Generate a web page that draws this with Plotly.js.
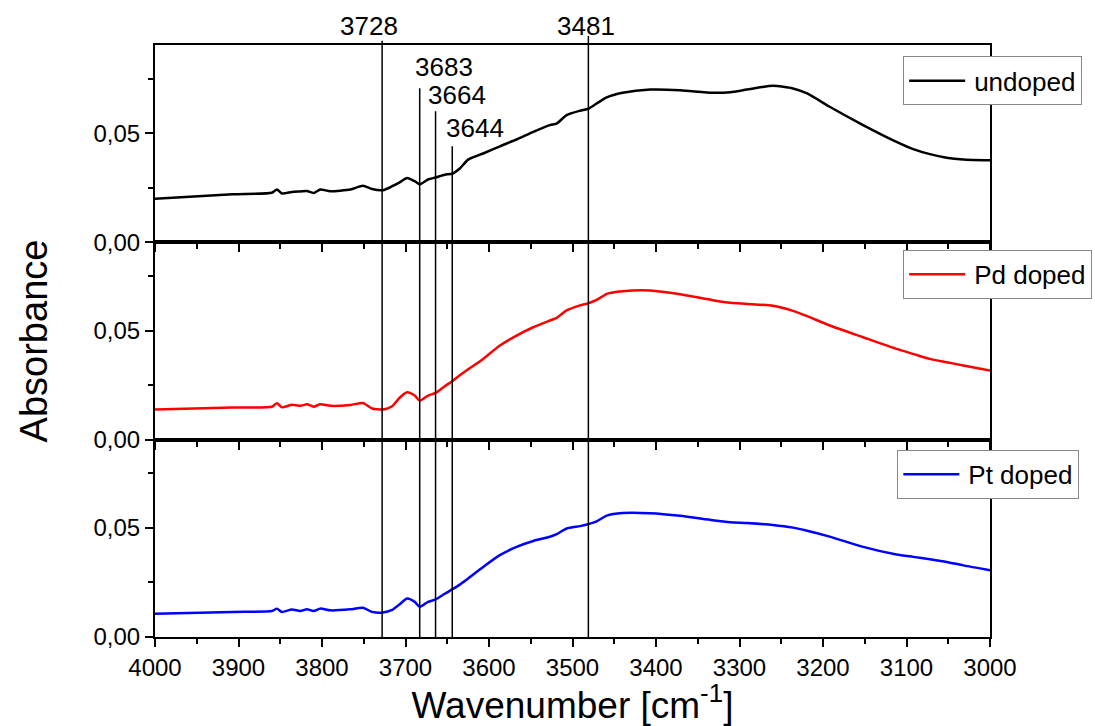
<!DOCTYPE html>
<html>
<head>
<meta charset="utf-8">
<script src="https://cdn.plot.ly/plotly-3.0.1.min.js"></script>
<style>
  html, body { margin: 0; padding: 0; background: #fff; }
  #chart { width: 1095px; height: 726px; }
</style>
</head>
<body>
<div id="chart"></div>
<script>
// ---- data ----
const wavenumber = [4000, 3907, 3860, 3854, 3848, 3836, 3826, 3818, 3810, 3802, 3790, 3766, 3751, 3740, 3727, 3716, 3707, 3698, 3689, 3683, 3673, 3664, 3653, 3644, 3635, 3625, 3607, 3587, 3567, 3547, 3527, 3519, 3507, 3491, 3481, 3471, 3459, 3440, 3407, 3371, 3332, 3311, 3291, 3260, 3236, 3219, 3192, 3152, 3112, 3092, 3072, 3052, 3032, 3000];

const undoped = [0.0200, 0.0220, 0.0227, 0.0242, 0.0224, 0.0231, 0.0233, 0.0235, 0.0226, 0.0242, 0.0234, 0.0242, 0.0259, 0.0244, 0.0239, 0.0257, 0.0275, 0.0295, 0.0280, 0.0266, 0.0288, 0.0297, 0.0310, 0.0314, 0.0338, 0.0379, 0.0407, 0.0440, 0.0471, 0.0506, 0.0537, 0.0544, 0.0583, 0.0603, 0.0612, 0.0636, 0.0664, 0.0685, 0.0700, 0.0697, 0.0685, 0.0688, 0.0700, 0.0717, 0.0705, 0.0682, 0.0621, 0.0537, 0.0460, 0.0427, 0.0404, 0.0388, 0.0380, 0.0376];

const pdDoped = [0.0138, 0.0147, 0.0151, 0.0167, 0.0148, 0.0160, 0.0155, 0.0162, 0.0151, 0.0162, 0.0155, 0.0159, 0.0168, 0.0143, 0.0138, 0.0153, 0.0192, 0.0217, 0.0202, 0.0179, 0.0202, 0.0214, 0.0245, 0.0268, 0.0295, 0.0322, 0.0370, 0.0431, 0.0477, 0.0515, 0.0546, 0.0558, 0.0592, 0.0615, 0.0625, 0.0640, 0.0668, 0.0680, 0.0683, 0.0666, 0.0639, 0.0627, 0.0622, 0.0613, 0.0590, 0.0566, 0.0523, 0.0469, 0.0416, 0.0393, 0.0370, 0.0355, 0.0340, 0.0317];

const ptDoped = [0.0107, 0.0115, 0.0119, 0.0130, 0.0115, 0.0126, 0.0119, 0.0127, 0.0119, 0.0130, 0.0122, 0.0127, 0.0134, 0.0115, 0.0112, 0.0124, 0.0150, 0.0176, 0.0161, 0.0138, 0.0161, 0.0172, 0.0198, 0.0218, 0.0240, 0.0268, 0.0321, 0.0375, 0.0413, 0.0440, 0.0459, 0.0471, 0.0497, 0.0508, 0.0517, 0.0530, 0.0556, 0.0568, 0.0567, 0.0555, 0.0535, 0.0526, 0.0522, 0.0513, 0.0501, 0.0487, 0.0460, 0.0413, 0.0378, 0.0367, 0.0356, 0.0344, 0.0328, 0.0306];

const seriesNames = ['undoped', 'Pd doped', 'Pt doped'];
const peaks = [3728, 3683, 3664, 3644, 3481];
const peakLabels = ['3728', '3683', '3664', '3644', '3481'];

// ---- styling / placement (not data) ----
const FONT = 'Arial, "Liberation Sans", Helvetica, sans-serif';
const colors = ['#000000', '#ff0000', '#0000ff'];
const peakLineTop = [1.007, 0.927, 0.888, 0.829, 1.015];   // paper y of each marker line top
const peakLabelY = [1.032, 0.963, 0.916, 0.860, 1.032];     // paper y of label centre
const peakLabelAnchor = ['center', 'left', 'left', 'left', 'center'];
const peakLabelShift = [-13, -7, -10, -8, -2];

const yAxes = ['y', 'y2', 'y3'];
const xAxes = ['x3', 'x2', 'x'];
const values = [undoped, pdDoped, ptDoped];
const legendIds = ['legend', 'legend2', 'legend3'];

const traces = values.map((v, i) => ({
  x: wavenumber,
  y: v,
  type: 'scatter',
  mode: 'lines',
  name: seriesNames[i],
  xaxis: xAxes[i],
  yaxis: yAxes[i],
  legend: legendIds[i],
  line: { color: colors[i], width: 2.5, shape: 'spline', smoothing: 0.6 }
}));

const yRange = [0, 0.0904];
function yax(domain) {
  return {
    domain: domain,
    range: yRange,
    showgrid: false,
    zeroline: false,
    showline: true,
    linecolor: '#000',
    linewidth: 2,
    mirror: true,
    ticks: 'outside',
    ticklen: 8,
    tickwidth: 2,
    tickcolor: '#000',
    dtick: 0.05,
    tick0: 0,
    tickformat: '.2f',
    tickfont: { family: FONT, size: 24, color: '#000' },
    minor: { dtick: 0.025, ticks: 'outside', ticklen: 5, tickwidth: 2, tickcolor: '#000', showgrid: false },
    fixedrange: true,
    automargin: false
  };
}
function xax(anchor, labels) {
  return {
    anchor: anchor,
    range: [4000, 3000],
    showgrid: false,
    zeroline: false,
    showline: true,
    linecolor: '#000',
    linewidth: 2,
    mirror: true,
    ticks: 'outside',
    ticklen: 8,
    tickwidth: 2,
    tickcolor: '#000',
    dtick: 100,
    tick0: 3000,
    showticklabels: labels,
    tickfont: { family: FONT, size: 24, color: '#000' },
    minor: { dtick: 50, ticks: 'outside', ticklen: 5, tickwidth: 2, tickcolor: '#000', showgrid: false },
    fixedrange: true,
    automargin: false
  };
}

const layout = {
  width: 1095,
  height: 726,
  margin: { l: 155, r: 105, t: 45, b: 89, autoexpand: false },
  paper_bgcolor: '#fff',
  plot_bgcolor: '#fff',
  separators: ',.',
  font: { family: FONT, color: '#000' },
  xaxis: Object.assign(xax('y3', true), {
    title: { text: 'Wavenumber [cm<sup>-1</sup>]', font: { family: FONT, size: 37, color: '#000' }, standoff: 6 }
  }),
  xaxis2: Object.assign(xax('y2', false), { matches: 'x' }),
  xaxis3: Object.assign(xax('y', false), { matches: 'x' }),
  yaxis: yax([2 / 3, 1]),
  yaxis2: Object.assign(yax([1 / 3, 2 / 3]), {
    title: { text: 'Absorbance', font: { family: FONT, size: 38, color: '#000' }, standoff: 34 }
  }),
  yaxis3: yax([0, 1 / 3]),
  shapes: peaks.map((p, i) => ({
    type: 'line', xref: 'x', yref: 'paper',
    x0: p, x1: p, y0: 0, y1: peakLineTop[i],
    line: { color: '#000', width: 1.5 }
  })),
  annotations: peaks.map((p, i) => ({
    x: p, xref: 'x', y: peakLabelY[i], yref: 'paper',
    text: peakLabels[i], showarrow: false,
    xanchor: peakLabelAnchor[i], yanchor: 'middle', xshift: peakLabelShift[i],
    font: { family: FONT, size: 26, color: '#000' }
  })),
  showlegend: true
};

const legendBase = {
  xanchor: 'left', yanchor: 'top',
  bgcolor: '#fff', bordercolor: '#888', borderwidth: 1,
  font: { family: FONT, size: 26, color: '#000' },
  itemwidth: 60, tracegroupgap: 0
};
layout.legend = Object.assign({}, legendBase, { x: 0.896, y: 0.981 });
layout.legend2 = Object.assign({}, legendBase, { x: 0.896, y: 0.654 });
layout.legend3 = Object.assign({}, legendBase, { x: 0.889, y: 0.316 });

function stretchLegendLines() {
  // lengthen the legend line swatches to match the reference's longer samples
  document.querySelectorAll('#chart g.legendlines path, #chart .legend path.js-line').forEach(p => {
    p.setAttribute('d', 'M5,0h56');
  });
}

Plotly.newPlot('chart', traces, layout, { displayModeBar: false, staticPlot: true }).then(() => {
  stretchLegendLines();
  setTimeout(stretchLegendLines, 50);
});
</script>
</body>
</html>
